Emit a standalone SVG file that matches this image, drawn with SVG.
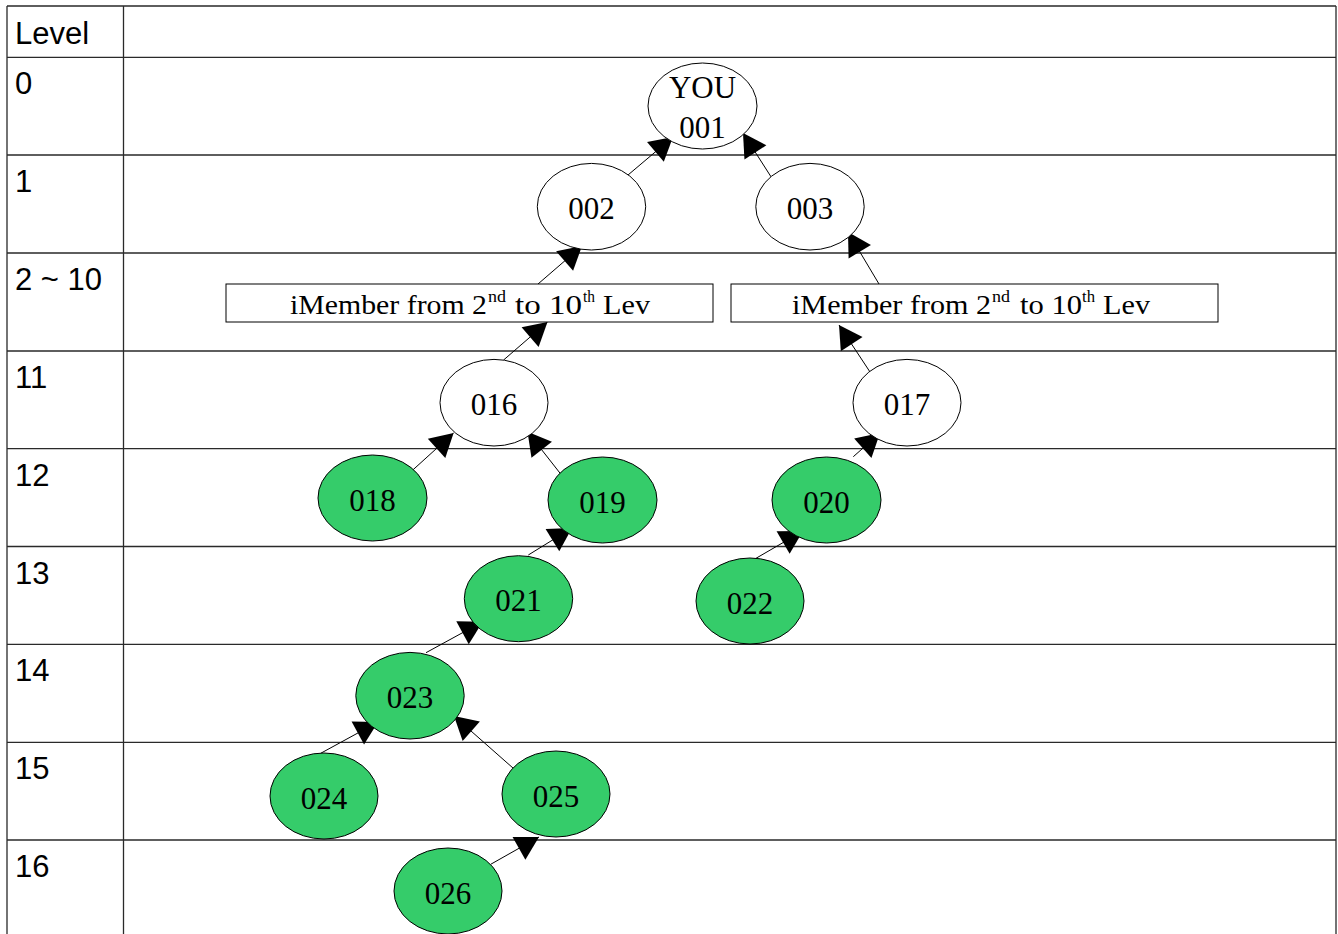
<svg xmlns="http://www.w3.org/2000/svg" width="1338" height="934" viewBox="0 0 1338 934">
<style>
.grid{stroke:#2a2a2a;stroke-width:1.3;fill:none}
.lvl{font-family:"Liberation Sans",Arial,sans-serif;font-size:31px;fill:#000}
.n{stroke:#000;stroke-width:1;fill:#fff}
.g{stroke:#000;stroke-width:1;fill:#35cc6a}
.t{font-family:"Liberation Serif","Times New Roman",serif;font-size:31px;fill:#000;text-anchor:middle}
.bt{font-family:"Liberation Serif","Times New Roman",serif;font-size:28px;fill:#000}
.sup{font-size:16px}
.box{stroke:#000;stroke-width:1;fill:#fff}
.c{stroke:#000;stroke-width:1;fill:none;marker-end:url(#ah)}
</style>
<defs>
<marker id="ah" markerUnits="userSpaceOnUse" markerWidth="24" markerHeight="26" refX="23" refY="13" orient="auto" overflow="visible">
<path d="M0,0 L23,13 L0,26 Z" fill="#000"/>
</marker>
</defs>
<rect width="1338" height="934" fill="#fff"/>
<g id="table">
<path class="grid" d="M7,6 H1336 M7,6 V934 M123.5,6 V934 M1336,6 V934 M7,57.3 H1336 M7,155 H1336 M7,253 H1336 M7,351 H1336 M7,448.7 H1336 M7,546.5 H1336 M7,644.3 H1336 M7,742.3 H1336 M7,840 H1336"/>
<text class="lvl" x="15" y="43.5">Level</text>
<text class="lvl" x="15" y="94">0</text>
<text class="lvl" x="15" y="192">1</text>
<text class="lvl" x="15" y="290">2 ~ 10</text>
<text class="lvl" x="15" y="388">11</text>
<text class="lvl" x="15" y="486">12</text>
<text class="lvl" x="15" y="584">13</text>
<text class="lvl" x="15" y="681">14</text>
<text class="lvl" x="15" y="779">15</text>
<text class="lvl" x="15" y="877">16</text>
</g>
<g id="connectors">
<line class="c" x1="628" y1="175" x2="673" y2="137"/>
<line class="c" x1="775" y1="183" x2="743" y2="133"/>
<line class="c" x1="538" y1="284" x2="582" y2="246"/>
<line class="c" x1="879" y1="284" x2="848" y2="232"/>
<line class="c" x1="503.6" y1="360" x2="547.5" y2="322"/>
<line class="c" x1="872" y1="375" x2="839" y2="325"/>
<line class="c" x1="411.7" y1="471" x2="453.6" y2="433"/>
<line class="c" x1="560.7" y1="474" x2="527.5" y2="431.7"/>
<line class="c" x1="853.3" y1="456.7" x2="880" y2="433"/>
<line class="c" x1="528.3" y1="555" x2="572" y2="528"/>
<line class="c" x1="756" y1="558.3" x2="803" y2="531"/>
<line class="c" x1="426" y1="652.7" x2="482.7" y2="621.7"/>
<line class="c" x1="320.7" y1="753.3" x2="378" y2="722"/>
<line class="c" x1="513.3" y1="768.3" x2="454" y2="716"/>
<line class="c" x1="490.7" y1="864.3" x2="539" y2="837"/>
</g>
<g id="n001"><ellipse class="n" cx="702.5" cy="106" rx="54.5" ry="43"/><text class="t" x="702.5" y="98">YOU</text><text class="t" x="702.5" y="138">001</text></g>
<g id="n002"><ellipse class="n" cx="591.5" cy="206.7" rx="54.2" ry="43.3"/><text class="t" x="591.5" y="219">002</text></g>
<g id="n003"><ellipse class="n" cx="810" cy="206.7" rx="54.2" ry="43.3"/><text class="t" x="810" y="219">003</text></g>
<g id="box-left"><rect class="box" x="226" y="284" width="487" height="38"/>
<text class="bt" y="314"><tspan x="290" textLength="197" lengthAdjust="spacingAndGlyphs">iMember from 2</tspan><tspan class="sup" x="488" y="302" textLength="18" lengthAdjust="spacingAndGlyphs">nd</tspan><tspan x="515" y="314" textLength="67" lengthAdjust="spacingAndGlyphs">to 10</tspan><tspan class="sup" x="583" y="302" textLength="12" lengthAdjust="spacingAndGlyphs">th</tspan><tspan x="603" y="314" textLength="47" lengthAdjust="spacingAndGlyphs">Lev</tspan></text></g>
<g id="box-right"><rect class="box" x="731" y="284" width="487" height="38"/>
<text class="bt" y="314"><tspan x="792" textLength="199" lengthAdjust="spacingAndGlyphs">iMember from 2</tspan><tspan class="sup" x="992" y="302" textLength="18" lengthAdjust="spacingAndGlyphs">nd</tspan><tspan x="1020" y="314" textLength="62" lengthAdjust="spacingAndGlyphs">to 10</tspan><tspan class="sup" x="1082" y="302" textLength="13" lengthAdjust="spacingAndGlyphs">th</tspan><tspan x="1103" y="314" textLength="47" lengthAdjust="spacingAndGlyphs">Lev</tspan></text></g>
<g id="n016"><ellipse class="n" cx="494" cy="402.7" rx="54" ry="43.3"/><text class="t" x="494" y="415">016</text></g>
<g id="n017"><ellipse class="n" cx="907" cy="402.7" rx="54" ry="43.3"/><text class="t" x="907" y="415">017</text></g>
<g id="n018"><ellipse class="g" cx="372.5" cy="498" rx="54.5" ry="43"/><text class="t" x="372.5" y="510.5">018</text></g>
<g id="n019"><ellipse class="g" cx="602.5" cy="500" rx="54.5" ry="43"/><text class="t" x="602.5" y="512.5">019</text></g>
<g id="n020"><ellipse class="g" cx="826.5" cy="500" rx="54.5" ry="43"/><text class="t" x="826.5" y="512.5">020</text></g>
<g id="n021"><ellipse class="g" cx="518.5" cy="598.7" rx="54.2" ry="43"/><text class="t" x="518.5" y="611">021</text></g>
<g id="n022"><ellipse class="g" cx="750" cy="601" rx="54" ry="43"/><text class="t" x="750" y="613.5">022</text></g>
<g id="n023"><ellipse class="g" cx="410" cy="695.7" rx="54.2" ry="43.3"/><text class="t" x="410" y="708">023</text></g>
<g id="n024"><ellipse class="g" cx="324" cy="796" rx="54" ry="43"/><text class="t" x="324" y="808.5">024</text></g>
<g id="n025"><ellipse class="g" cx="556" cy="794" rx="54" ry="43"/><text class="t" x="556" y="806.5">025</text></g>
<g id="n026"><ellipse class="g" cx="448" cy="891" rx="54" ry="43"/><text class="t" x="448" y="903.5">026</text></g>
</svg>
